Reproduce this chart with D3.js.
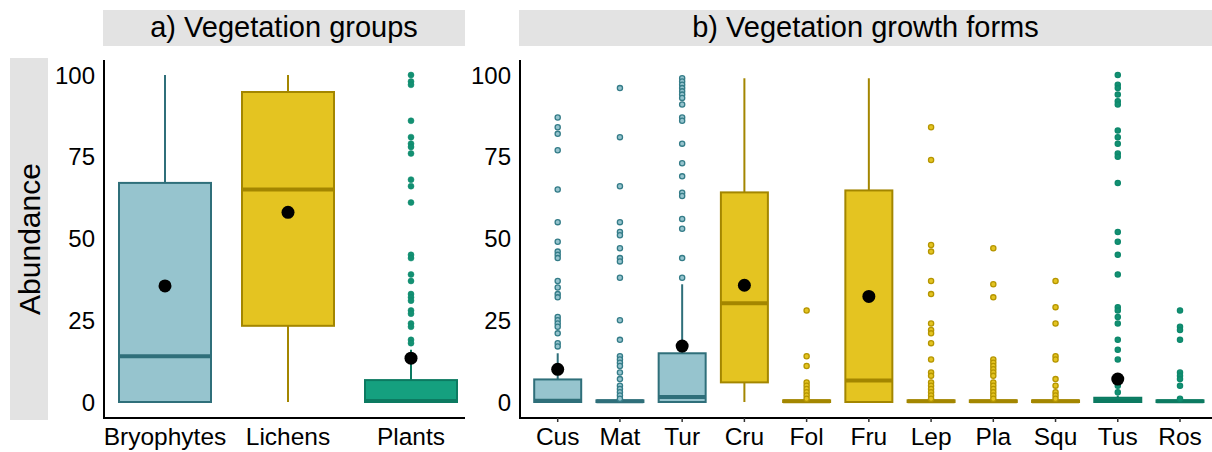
<!DOCTYPE html>
<html>
  <head>
    <meta charset="utf-8" />
    <title>Abundance boxplots</title>
    <script src="https://cdn.jsdelivr.net/npm/d3@7/dist/d3.min.js"></script>
    <style>
      body { margin: 0; background: #fff; }
      text { font-family: "Liberation Sans", Arial, sans-serif; fill: #000; }
    </style>
  </head>
  <body>
    <script>
      // panel a - vegetation groups
      const groups = ["Bryophytes", "Lichens", "Plants"];
      const groupLow = [0, 0, 0];
      const groupQ1 = [0, 23.3, 0];
      const groupMedian = [14, 65, 0.3];
      const groupQ3 = [67, 94.8, 6.7];
      const groupHigh = [100, 100, 16];
      const groupMean = [35.5, 58, 13.4];
      const groupOutliers = [
        [],
        [],
        [100, 98, 97, 86, 81, 79, 78, 76, 68, 66, 61, 45, 44, 39, 37, 33, 32, 31, 28, 27, 24, 23, 19, 18]
      ];

      // panel b - growth forms
      const forms = ["Cus", "Mat", "Tur", "Cru", "Fol", "Fru", "Lep", "Pla", "Squ", "Tus", "Ros"];
      const formGroup = ["Bryophytes", "Bryophytes", "Bryophytes", "Lichens", "Lichens", "Lichens",
                         "Lichens", "Lichens", "Lichens", "Plants", "Plants"];
      const formLow = [0, 0, 0, 0, 0, 0, 0, 0, 0, 0, 0];
      const formQ1 = [0, 0, 0, 6, 0, 0, 0, 0, 0, 0, 0];
      const formMedian = [0.4, 0.2, 1.5, 30.2, 0.2, 6.6, 0.2, 0.2, 0.2, 0.4, 0.2];
      const formQ3 = [6.9, 0.5, 14.9, 64.1, 0.5, 64.7, 0.5, 0.5, 0.5, 1.3, 0.5];
      const formHigh = [14.9, 0.5, 36, 99, 0.5, 99, 0.5, 0.5, 0.5, 2, 0.5];
      const formMean = [10, null, 17.1, 35.7, null, 32.3, null, null, null, 7, null];
      const formOutliers = [
        [87, 84, 82, 77, 65, 55, 49, 46, 45, 44, 37, 35, 33, 32, 26, 25, 24, 23, 21, 18, 17],
        [96, 81, 66, 55, 52, 51, 47, 44, 43, 38, 25, 19, 14, 13, 12, 11, 9, 7, 5, 4, 3, 2, 1],
        [99, 98, 97, 96, 95, 94, 93, 91, 87, 86, 79, 73, 69, 64, 63, 56, 53, 44, 38],
        [],
        [28, 14, 11, 6, 5, 4, 3, 2, 1],
        [],
        [84, 74, 48, 46, 37, 33, 24, 22, 21, 18, 13, 9, 8, 6, 5, 4, 3, 2, 1],
        [47, 36, 32, 13, 12, 11, 10, 9, 8, 6, 5, 4, 3, 2, 1],
        [37, 29, 24, 14, 13, 7, 5, 3, 2, 1],
        [100, 97, 96, 94, 92, 91, 83, 81, 79, 76, 75, 67, 52, 49, 45, 39, 29, 28, 26, 24, 19, 16, 13, 5, 3],
        [28, 23, 22, 19, 9, 8, 7, 5, 1]
      ];

      const yTicks = [0, 25, 50, 75, 100];

      const fills = { Bryophytes: "#96c4ce", Lichens: "#e4c421", Plants: "#15a07f" };
      const strokes = { Bryophytes: "#2f6f7a", Lichens: "#a38600", Plants: "#0c7a61" };

      const w = 1212;
      const h = 452;

      const svg = d3.select("body").append("svg")
        .attr("width", w)
        .attr("height", h);

      const y = d3.scaleLinear().domain([0, 100]).range([402, 75]);

      // y axis title strip
      svg.append("rect").attr("x", 10).attr("y", 58).attr("width", 38).attr("height", 362).attr("fill", "#e3e3e3");
      svg.append("text")
        .attr("transform", "translate(40,239) rotate(-90)")
        .attr("text-anchor", "middle")
        .style("font-size", "30px")
        .text("Abundance");

      function panel(opt) {
        const g = svg.append("g");
        const x = d3.scalePoint().domain(opt.cats).range(opt.centers);

        // strip
        g.append("rect").attr("x", opt.left).attr("y", 10)
          .attr("width", opt.right - opt.left).attr("height", 36).attr("fill", "#e3e3e3");
        g.append("text")
          .attr("x", (opt.left + opt.right) / 2).attr("y", 37)
          .attr("text-anchor", "middle")
          .style("font-size", "29px")
          .text(opt.title);

        const rows = opt.cats.map((c, i) => ({
          cat: c, grp: opt.grp[i], lo: opt.low[i], q1: opt.q1[i], med: opt.med[i],
          q3: opt.q3[i], hi: opt.high[i], mean: opt.mean[i], out: opt.out[i]
        }));

        const item = g.selectAll("g.box").data(rows).enter().append("g").attr("class", "box");

        // whiskers
        item.append("line")
          .attr("x1", d => x(d.cat)).attr("x2", d => x(d.cat))
          .attr("y1", d => y(d.q3)).attr("y2", d => y(d.hi))
          .attr("stroke", d => strokes[d.grp]).attr("stroke-width", 2);
        item.append("line")
          .attr("x1", d => x(d.cat)).attr("x2", d => x(d.cat))
          .attr("y1", d => y(d.q1)).attr("y2", d => y(d.lo))
          .attr("stroke", d => strokes[d.grp]).attr("stroke-width", 2);

        // box
        item.append("rect")
          .attr("x", d => x(d.cat) - opt.boxW / 2)
          .attr("width", opt.boxW)
          .attr("y", d => y(d.q3))
          .attr("height", d => Math.max(y(d.q1) - y(d.q3), 1.5))
          .attr("fill", d => fills[d.grp])
          .attr("stroke", d => strokes[d.grp])
          .attr("stroke-width", 2);

        // median
        item.append("line")
          .attr("x1", d => x(d.cat) - opt.boxW / 2).attr("x2", d => x(d.cat) + opt.boxW / 2)
          .attr("y1", d => y(d.med)).attr("y2", d => y(d.med))
          .attr("stroke", d => strokes[d.grp]).attr("stroke-width", 4);

        // outliers
        item.each(function(d) {
          d3.select(this).selectAll("circle.out").data(d.out).enter().append("circle")
            .attr("class", "out")
            .attr("cx", x(d.cat))
            .attr("cy", v => y(v))
            .attr("r", opt.outR)
            .attr("fill", opt.hollow && d.grp != "Plants" ? fills[d.grp] : d3.color(fills[d.grp]).darker(0.3))
            .attr("stroke", d3.color(strokes[d.grp]).brighter(0.3))
            .attr("stroke-width", opt.hollow ? 1.3 : 0.5);
        });

        // means
        item.filter(d => d.mean != null).append("circle")
          .attr("cx", d => x(d.cat)).attr("cy", d => y(d.mean))
          .attr("r", 6.5).attr("fill", "#000");

        // axes
        g.append("line").attr("x1", opt.left + 1).attr("x2", opt.left + 1)
          .attr("y1", 60).attr("y2", 418.5).attr("stroke", "#000").attr("stroke-width", 2);
        g.append("line").attr("x1", opt.left).attr("x2", opt.right)
          .attr("y1", 418).attr("y2", 418).attr("stroke", "#000").attr("stroke-width", 2);

        g.selectAll("text.ytick").data(yTicks).enter().append("text")
          .attr("class", "ytick")
          .attr("x", opt.left - 8).attr("y", d => y(d) + 8.5)
          .attr("text-anchor", "end")
          .style("font-size", "24px")
          .text(d => d);

        if (opt.ticks) {
          g.selectAll("line.xtick").data(opt.cats).enter().append("line")
            .attr("class", "xtick")
            .attr("x1", d => x(d)).attr("x2", d => x(d))
            .attr("y1", 418).attr("y2", 422)
            .attr("stroke", "#333").attr("stroke-width", 1.5);
        }

        g.selectAll("text.xlab").data(opt.cats).enter().append("text")
          .attr("class", "xlab")
          .attr("x", d => x(d)).attr("y", 445)
          .attr("text-anchor", "middle")
          .style("font-size", "24.5px")
          .text(d => d);
      }

      panel({
        title: "a) Vegetation groups", left: 103, right: 465, centers: [165, 411],
        cats: groups, grp: groups, low: groupLow, q1: groupQ1, med: groupMedian, q3: groupQ3,
        high: groupHigh, mean: groupMean, out: groupOutliers, boxW: 92, outR: 3, hollow: false, ticks: false
      });

      panel({
        title: "b) Vegetation growth forms", left: 519, right: 1212, centers: [557.7, 1180],
        cats: forms, grp: formGroup, low: formLow, q1: formQ1, med: formMedian, q3: formQ3,
        high: formHigh, mean: formMean, out: formOutliers, boxW: 47, outR: 2.6, hollow: true, ticks: true
      });
    </script>
  </body>
</html>
